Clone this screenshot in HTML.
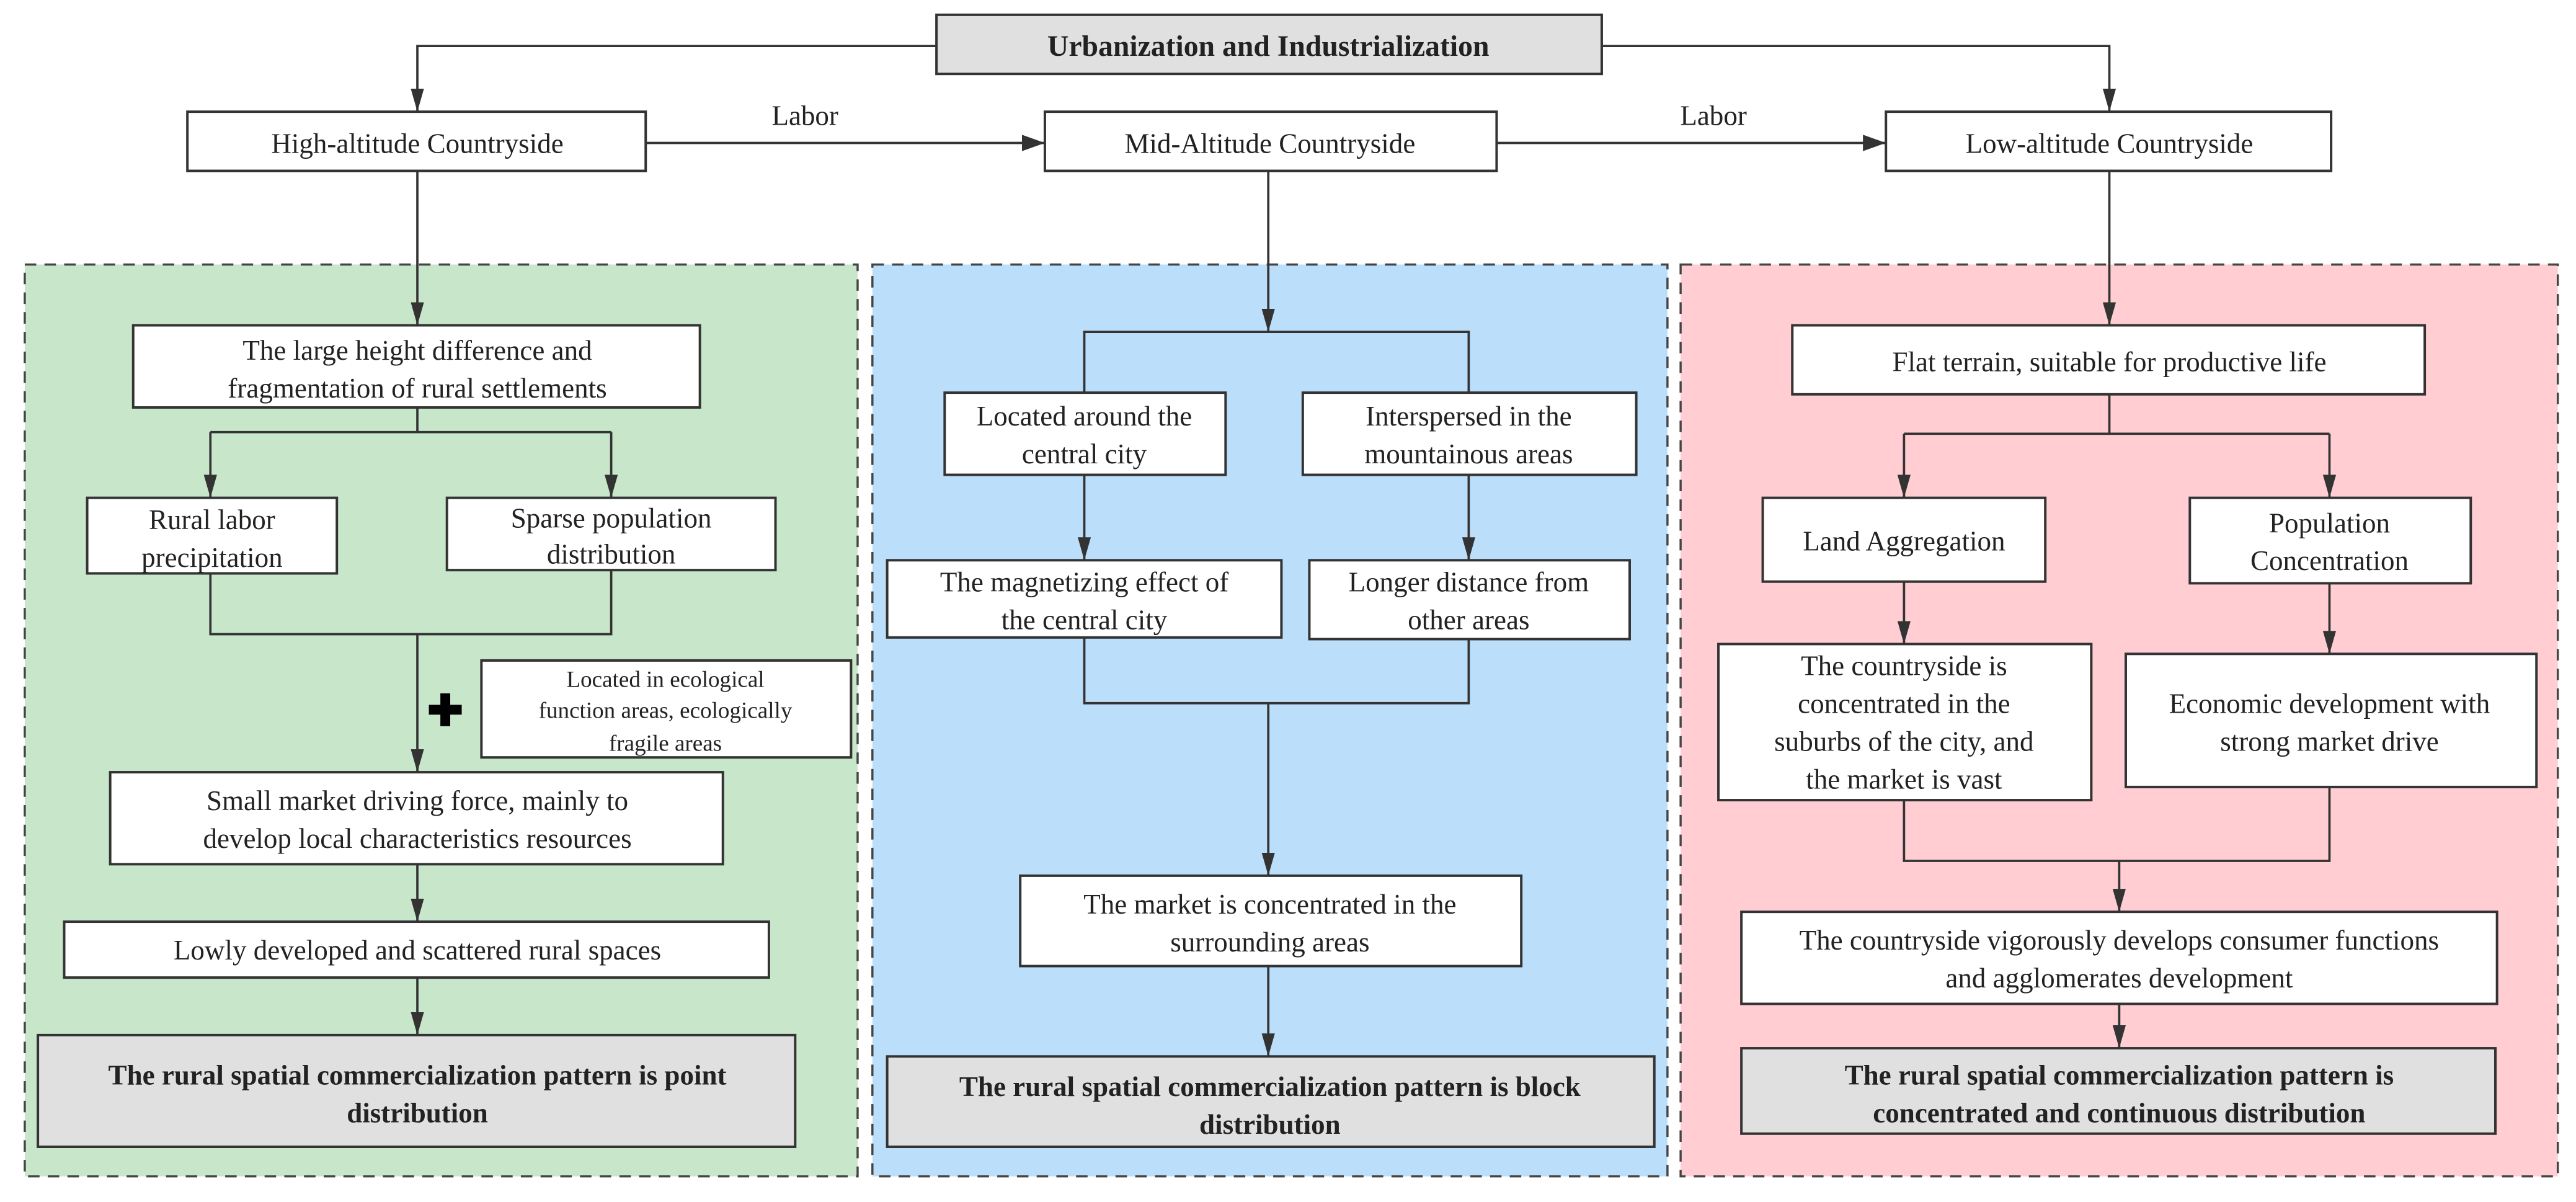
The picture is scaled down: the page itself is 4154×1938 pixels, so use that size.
<!DOCTYPE html>
<html><head><meta charset="utf-8"><style>
html,body{margin:0;padding:0;background:#fff;}
svg{display:block;}
svg text{font-family:"Liberation Serif","Times New Roman",Times,serif;fill:#222;}
</style></head><body>
<svg width="4154" height="1938" viewBox="0 0 1568 731.6" xmlns="http://www.w3.org/2000/svg">
<defs>
<marker id="a" markerWidth="14" markerHeight="8" refX="14" refY="4" orient="auto" markerUnits="userSpaceOnUse" viewBox="0 0 14 8">
<path d="M0,0 L14,4 L0,8 z" fill="#333"/></marker>
<marker id="r" markerWidth="14" markerHeight="10" refX="14" refY="5" orient="auto" markerUnits="userSpaceOnUse" viewBox="0 0 14 10">
<path d="M0,0 L14,5 L0,10 z" fill="#333"/></marker>
</defs>
<g stroke="#444" stroke-width="1.3" stroke-dasharray="7,5">
<rect x="15" y="161" width="507" height="555" fill="#c8e6c9"/>
<rect x="531" y="161" width="484" height="555" fill="#bbdefb"/>
<rect x="1023" y="161" width="534" height="555" fill="#ffcdd2"/>
</g>
<g fill="none" stroke="#333" stroke-width="1.4">
<path d="M570,28 H254 V68" marker-end="url(#a)"/>
<path d="M975,28 H1284 V68" marker-end="url(#a)"/>
<path d="M393,87 H636" marker-end="url(#r)"/>
<path d="M911,87 H1148" marker-end="url(#r)"/>
<path d="M254,104 V198" marker-end="url(#a)"/>
<path d="M254,248 V263 M128,263 H372"/>
<path d="M128,263 V303" marker-end="url(#a)"/>
<path d="M372,263 V303" marker-end="url(#a)"/>
<path d="M128,349 V386 H372 V347"/>
<path d="M254,386 V470" marker-end="url(#a)"/>
<path d="M254,526 V561" marker-end="url(#a)"/>
<path d="M254,595 V630" marker-end="url(#a)"/>
<path d="M772,104 V202" marker-end="url(#a)"/>
<path d="M660,239 V202 H894 V239"/>
<path d="M660,289 V341" marker-end="url(#a)"/>
<path d="M894,289 V341" marker-end="url(#a)"/>
<path d="M660,388 V428 H894 V389"/>
<path d="M772,428 V533" marker-end="url(#a)"/>
<path d="M772,588 V643" marker-end="url(#a)"/>
<path d="M1284,104 V198" marker-end="url(#a)"/>
<path d="M1284,240 V264 M1159,264 H1418"/>
<path d="M1159,264 V303" marker-end="url(#a)"/>
<path d="M1418,264 V303" marker-end="url(#a)"/>
<path d="M1159,354 V392" marker-end="url(#a)"/>
<path d="M1418,355 V398" marker-end="url(#a)"/>
<path d="M1159,487 V524 H1418 V479"/>
<path d="M1290,524 V555" marker-end="url(#a)"/>
<path d="M1290,611 V638" marker-end="url(#a)"/>
</g>
<g stroke="#333" stroke-width="1.5" fill="#fff">
<rect x="570" y="9" width="405" height="36" fill="#e0e0e0"/>
<rect x="114" y="68" width="279" height="36"/>
<rect x="636" y="68" width="275" height="36"/>
<rect x="1148" y="68" width="271" height="36"/>
<rect x="81" y="198" width="345" height="50"/>
<rect x="53" y="303" width="152" height="46"/>
<rect x="272" y="303" width="200" height="44"/>
<rect x="293" y="402" width="225" height="59"/>
<rect x="67" y="470" width="373" height="56"/>
<rect x="39" y="561" width="429" height="34"/>
<rect x="23" y="630" width="461" height="68" fill="#e0e0e0"/>
<rect x="575" y="239" width="171" height="50"/>
<rect x="793" y="239" width="203" height="50"/>
<rect x="540" y="341" width="240" height="47"/>
<rect x="797" y="341" width="195" height="48"/>
<rect x="621" y="533" width="305" height="55"/>
<rect x="540" y="643" width="467" height="55" fill="#e0e0e0"/>
<rect x="1091" y="198" width="385" height="42"/>
<rect x="1073" y="303" width="172" height="51"/>
<rect x="1333" y="303" width="171" height="52"/>
<rect x="1046" y="392" width="227" height="95"/>
<rect x="1294" y="398" width="250" height="81"/>
<rect x="1060" y="555" width="460" height="56"/>
<rect x="1060" y="638" width="459" height="52" fill="#e0e0e0"/>
</g>
<path d="M268,422 h6 v7 h7 v6 h-7 v7 h-6 v-7 h-7 v-6 h7 z" fill="#000"/>
<g font-size="17" text-anchor="middle" font-family="Liberation Serif, serif">
<text x="772" y="34" font-weight="bold" font-size="18">Urbanization and Industrialization</text>
<text x="254" y="93">High-altitude Countryside</text>
<text x="773" y="93">Mid-Altitude Countryside</text>
<text x="1284" y="93">Low-altitude Countryside</text>
<text x="490" y="76">Labor</text>
<text x="1043" y="76">Labor</text>
<text x="254" y="219">The large height difference and</text>
<text x="254" y="242">fragmentation of rural settlements</text>
<text x="129" y="322">Rural labor</text>
<text x="129" y="345">precipitation</text>
<text x="372" y="321">Sparse population</text>
<text x="372" y="343">distribution</text>
<text x="405" y="418" font-size="14">Located in ecological</text>
<text x="405" y="437" font-size="14">function areas, ecologically</text>
<text x="405" y="457" font-size="14">fragile areas</text>
<text x="254" y="493">Small market driving force, mainly to</text>
<text x="254" y="516">develop local characteristics resources</text>
<text x="254" y="584">Lowly developed and scattered rural spaces</text>
<text x="254" y="660" font-weight="bold">The rural spatial commercialization pattern is point</text>
<text x="254" y="683" font-weight="bold">distribution</text>
<text x="660" y="259">Located around the</text>
<text x="660" y="282">central city</text>
<text x="894" y="259">Interspersed in the</text>
<text x="894" y="282">mountainous areas</text>
<text x="660" y="360">The magnetizing effect of</text>
<text x="660" y="383">the central city</text>
<text x="894" y="360">Longer distance from</text>
<text x="894" y="383">other areas</text>
<text x="773" y="556">The market is concentrated in the</text>
<text x="773" y="579">surrounding areas</text>
<text x="773" y="667" font-weight="bold">The rural spatial commercialization pattern is block</text>
<text x="773" y="690" font-weight="bold">distribution</text>
<text x="1284" y="226">Flat terrain, suitable for productive life</text>
<text x="1159" y="335">Land Aggregation</text>
<text x="1418" y="324">Population</text>
<text x="1418" y="347">Concentration</text>
<text x="1159" y="411">The countryside is</text>
<text x="1159" y="434">concentrated in the</text>
<text x="1159" y="457">suburbs of the city, and</text>
<text x="1159" y="480">the market is vast</text>
<text x="1418" y="434">Economic development with</text>
<text x="1418" y="457">strong market drive</text>
<text x="1290" y="578">The countryside vigorously develops consumer functions</text>
<text x="1290" y="601">and agglomerates development</text>
<text x="1290" y="660" font-weight="bold">The rural spatial commercialization pattern is</text>
<text x="1290" y="683" font-weight="bold">concentrated and continuous distribution</text>
</g>
</svg>
</body></html>
